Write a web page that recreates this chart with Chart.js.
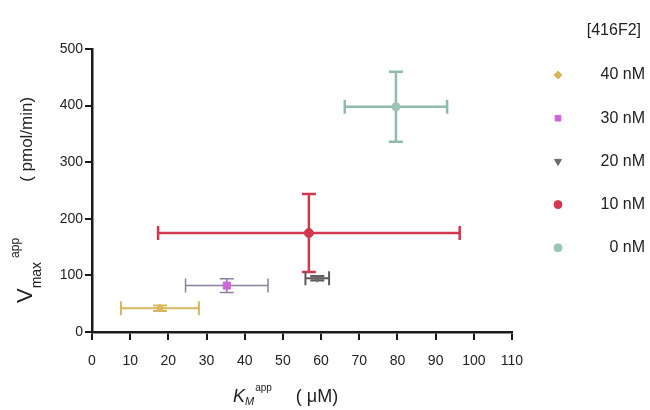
<!DOCTYPE html>
<html>
<head>
<meta charset="utf-8">
<title>416F2 kinetics</title>
<script src="https://cdn.jsdelivr.net/npm/chart.js@4.4.1/dist/chart.umd.min.js"></script>
<style>
  html, body { margin: 0; padding: 0; background: #fff; }
  #wrap { width: 650px; height: 410px; }
</style>
</head>
<body>
<div id="wrap"><canvas id="kineticsChart" width="650" height="410"></canvas></div>
<script>
// Apparent Km / Vmax per [416F2]
var concLabels = ['0 nM', '10 nM', '20 nM', '30 nM', '40 nM'];
var kmApp = [79.6, 56.8, 59.0, 35.3, 17.8];
var kmErr = [13.4, 39.5, 3.1, 10.8, 10.2];
var vmaxApp = [398, 175, 95, 82, 42];
var vmaxErr = [62, 69, 4, 12, 5];
var xTickValues = [0, 10, 20, 30, 40, 50, 60, 70, 80, 90, 100, 110];
var yTickValues = [0, 100, 200, 300, 400, 500];

var FONT = '"Liberation Sans", Arial, sans-serif';

// one style per series, same order as concLabels
var seriesStyle = [
  { bar: '#8fbcae', point: '#9cc4b6', shape: 'circle', rot: 0, radius: 4, width: 2.5 },
  { bar: '#d2374f', point: '#d2374f', shape: 'circle', rot: 0, radius: 4.5, width: 2.5 },
  { bar: '#5a5a5a', point: '#6a6a6a', shape: 'triangle', rot: 180, radius: 4, width: 2 },
  { bar: '#8c7fa0', point: '#cc66d6', shape: 'rect', rot: 0, radius: 5, width: 1.5 },
  { bar: '#d9b75e', point: '#d9b75e', shape: 'rect', rot: 45, radius: 4, width: 2 }
];

var datasets = concLabels.map(function (label, i) {
  var st = seriesStyle[i];
  return {
    label: label,
    data: [{ x: kmApp[i], y: vmaxApp[i], xErr: kmErr[i], yErr: vmaxErr[i] }],
    pointStyle: st.shape,
    pointRotation: st.rot,
    pointRadius: st.radius,
    pointBackgroundColor: st.point,
    pointBorderColor: st.point,
    pointBorderWidth: 1,
    errorColor: st.bar,
    errorWidth: st.width,
    showLine: false
  };
});

// error bars drawn under the points, from the scales
var errorBars = {
  id: 'errorBars',
  beforeDatasetsDraw: function (chart) {
    var ctx = chart.ctx;
    var xs = chart.scales.x, ys = chart.scales.y;
    var cap = 7;
    ctx.save();
    chart.data.datasets.forEach(function (ds) {
      ctx.strokeStyle = ds.errorColor;
      ctx.lineWidth = ds.errorWidth;
      ds.data.forEach(function (p) {
        var cx = xs.getPixelForValue(p.x), cy = ys.getPixelForValue(p.y);
        var x0 = xs.getPixelForValue(p.x - p.xErr), x1 = xs.getPixelForValue(p.x + p.xErr);
        var y0 = ys.getPixelForValue(p.y - p.yErr), y1 = ys.getPixelForValue(p.y + p.yErr);
        ctx.beginPath();
        ctx.moveTo(x0, cy); ctx.lineTo(x1, cy);
        ctx.moveTo(x0, cy - cap); ctx.lineTo(x0, cy + cap);
        ctx.moveTo(x1, cy - cap); ctx.lineTo(x1, cy + cap);
        if (p.yErr > 0) {
          ctx.moveTo(cx, y0); ctx.lineTo(cx, y1);
          ctx.moveTo(cx - cap, y0); ctx.lineTo(cx + cap, y0);
          ctx.moveTo(cx - cap, y1); ctx.lineTo(cx + cap, y1);
        }
        ctx.stroke();
      });
    });
    ctx.restore();
  }
};

function drawRuns(ctx, runs) {
  var x = 0;
  runs.forEach(function (r) {
    ctx.font = r.font;
    ctx.fillText(r.text, x, r.shift || 0);
    x += ctx.measureText(r.text).width + (r.gap || 0);
  });
}

// axis titles with sub/superscripts, and the side legend
var decorations = {
  id: 'decorations',
  afterDraw: function (chart) {
    var ctx = chart.ctx;
    ctx.save();
    ctx.fillStyle = '#222';
    ctx.textBaseline = 'alphabetic';
    ctx.textAlign = 'left';

    ctx.save();
    ctx.translate(32, 303);
    ctx.rotate(-Math.PI / 2);
    drawRuns(ctx, [
      { text: 'V', font: '22px ' + FONT },
      { text: 'max', font: '14px ' + FONT, shift: 9, gap: 4 },
      { text: 'app', font: '12px ' + FONT, shift: -13, gap: 56 },
      { text: '( pmol/min)', font: '17px ' + FONT }
    ]);
    ctx.restore();

    ctx.save();
    ctx.translate(233, 402);
    drawRuns(ctx, [
      { text: 'K', font: 'italic 18px ' + FONT },
      { text: 'M', font: 'italic 11px ' + FONT, shift: 3, gap: 1 },
      { text: 'app', font: '10px ' + FONT, shift: -11, gap: 24 },
      { text: '( \u03bcM)', font: '18px ' + FONT }
    ]);
    ctx.restore();

    ctx.textAlign = 'right';
    ctx.textBaseline = 'middle';
    ctx.font = '16px ' + FONT;
    ctx.fillText('[416F2]', 641, 31);
    var items = chart.data.datasets.slice().reverse();
    items.forEach(function (ds, i) {
      var y = 75 + i * 43.2;
      ctx.fillStyle = ds.pointBackgroundColor;
      ctx.strokeStyle = ds.pointBorderColor;
      ctx.lineWidth = 1;
      if (Chart.helpers && Chart.helpers.drawPoint) {
        Chart.helpers.drawPoint(ctx, { pointStyle: ds.pointStyle, radius: 4, rotation: ds.pointRotation, borderWidth: 1 }, 558, y);
      } else {
        ctx.beginPath(); ctx.arc(558, y, 4, 0, Math.PI * 2); ctx.fill();
      }
      ctx.fillStyle = '#222';
      ctx.fillText(ds.label, 645, y);
    });
    ctx.restore();
  }
};

function axisStyle(tickValues, tickLen, pad) {
  return {
    type: 'linear',
    min: tickValues[0],
    max: tickValues[tickValues.length - 1],
    afterBuildTicks: function (scale) {
      scale.ticks = tickValues.map(function (v) { return { value: v }; });
    },
    ticks: {
      color: '#222',
      font: { family: FONT, size: 14 },
      padding: pad,
      maxRotation: 0,
      autoSkip: false
    },
    grid: {
      drawOnChartArea: false,
      drawTicks: true,
      tickLength: tickLen,
      color: '#1a1a1a',
      lineWidth: 2
    },
    border: { color: '#1a1a1a', width: 2.5 },
    title: { display: false }
  };
}

var xAxis = axisStyle(xTickValues, 8, 13);
xAxis.afterFit = function (s) { s.height = 44; };
var yAxis = axisStyle(yTickValues, 7, 2);
yAxis.afterFit = function (s) { s.width = 62; };

new Chart(document.getElementById('kineticsChart'), {
  type: 'scatter',
  data: { datasets: datasets },
  options: {
    responsive: false,
    animation: false,
    layout: { padding: { left: 30, top: 49, right: 138, bottom: 34 } },
    plugins: {
      legend: { display: false },
      tooltip: { enabled: false }
    },
    scales: { x: xAxis, y: yAxis }
  },
  plugins: [errorBars, decorations]
});
</script>
</body>
</html>
